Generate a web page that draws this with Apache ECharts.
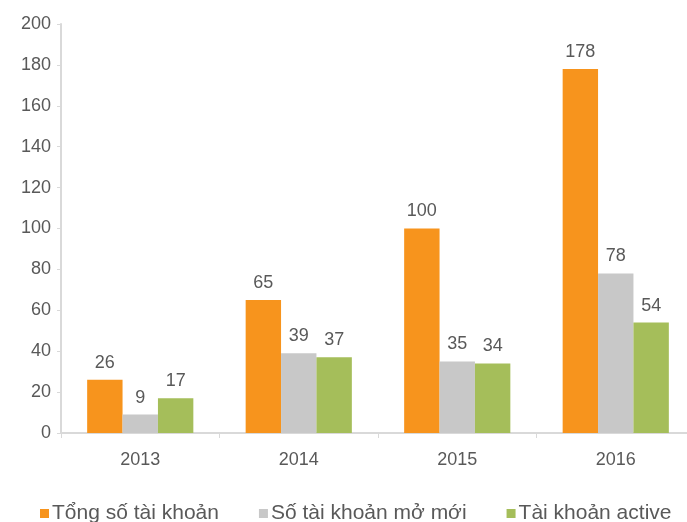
<!DOCTYPE html>
<html>
<head>
<meta charset="utf-8">
<script src="https://cdn.jsdelivr.net/npm/echarts@6/dist/echarts.min.js"></script>
<style>
  html, body { margin: 0; padding: 0; background: #fff; overflow: hidden; }
  #chart { width: 687px; height: 522px; }
</style>
</head>
<body>
<div id="chart"></div>
<script>
  // dữ liệu
  var years = ['2013', '2014', '2015', '2016'];
  var tongSo = [26, 65, 100, 178];
  var moMoi = [9, 39, 35, 78];
  var active = [17, 37, 34, 54];

  var chart = echarts.init(document.getElementById('chart'));
  var font = 'Liberation Sans, Arial, sans-serif';
  var labelStyle = {
    show: true,
    position: 'top',
    distance: 8,
    color: '#595959',
    fontSize: 18,
    fontFamily: font
  };

  chart.setOption({
    animation: false,
    grid: { left: 61, width: 634, top: 24, bottom: 89, outerBoundsMode: 'none' },
    legend: {
      bottom: -7,
      left: 35,
      itemWidth: 9,
      itemHeight: 9,
      itemGap: 40,
      icon: 'rect',
      textStyle: { color: '#595959', fontSize: 21, fontFamily: font, padding: [0, 0, 0, -2] },
      data: ['Tổng số tài khoản', 'Số tài khoản mở mới', 'Tài khoản active']
    },
    xAxis: {
      type: 'category',
      data: years,
      axisLine: { lineStyle: { color: '#d9d9d9', width: 2 } },
      axisTick: { show: true, length: 5, lineStyle: { color: '#d9d9d9' } },
      axisLabel: { color: '#595959', fontSize: 18, fontFamily: font, margin: 18 }
    },
    yAxis: {
      type: 'value',
      min: 0,
      max: 200,
      interval: 20,
      splitLine: { show: false },
      axisLine: { show: true, lineStyle: { color: '#d9d9d9', width: 2 } },
      axisTick: { show: true, length: 4, lineStyle: { color: '#d9d9d9' } },
      axisLabel: { color: '#595959', fontSize: 18, fontFamily: font, margin: 10 }
    },
    series: [
      {
        name: 'Tổng số tài khoản',
        type: 'bar',
        data: tongSo,
        barGap: '0%',
        barCategoryGap: '33%',
        itemStyle: { color: '#F7941D' },
        label: labelStyle
      },
      {
        name: 'Số tài khoản mở mới',
        type: 'bar',
        data: moMoi,
        itemStyle: { color: '#C8C8C8' },
        label: labelStyle
      },
      {
        name: 'Tài khoản active',
        type: 'bar',
        data: active,
        itemStyle: { color: '#A5BE5A' },
        label: labelStyle
      }
    ]
  });
</script>
</body>
</html>
